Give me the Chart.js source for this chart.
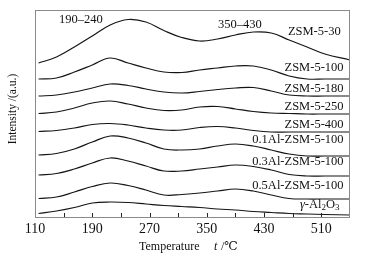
<!DOCTYPE html>
<html>
<head>
<meta charset="utf-8">
<script src="https://cdn.jsdelivr.net/npm/chart.js@4/dist/chart.umd.min.js"></script>
<style>
  html, body { margin: 0; padding: 0; background: #fff; }
  #wrap { width: 365px; height: 259px; }
</style>
</head>
<body>
<div id="wrap"><canvas id="tpd" width="365" height="259"></canvas></div>
<script>
// temperatures (°C) the curves were read at
const temps = [115, 140, 165, 190, 215, 240, 265, 290, 315, 340, 365, 390, 415, 440, 465, 490, 515, 550];

// intensity, arbitrary units (curves are already offset for stacking)
const zsm30   = [154, 160, 170, 181, 192, 197.5, 195, 186.5, 179.5, 176, 178, 182, 185, 184, 177, 170, 163, 157];
const zsm100  = [138, 139, 145, 152, 159, 154, 149, 145, 144.5, 147, 149, 151, 151, 147, 141, 138, 138, 138];
const zsm180  = [121, 122, 125, 129, 133, 131.5, 128, 125, 124, 125.5, 127.5, 129, 129.5, 126, 122, 121, 121, 121];
const zsm250  = [103.5, 105, 109, 114, 116, 113, 109, 106.5, 107, 110, 110.5, 108, 105.5, 104, 103.5, 103, 103, 103];
const zsm400  = [85.5, 86.5, 89, 92.5, 93.5, 92, 89, 87, 87, 89.5, 90.5, 89, 86.5, 85, 85, 85, 85, 85];
const al01    = [62, 63.5, 68, 75, 81, 79, 74, 68, 67, 68, 71, 73, 71, 67, 63, 61, 61, 61];
const al03    = [42, 43.5, 48, 54, 59, 56, 51, 46, 46, 48, 50, 52, 50.5, 47, 42.5, 41, 41, 41];
const al05    = [18.5, 20, 25, 30.5, 34, 31.5, 27, 22, 22.5, 24, 26, 28, 26, 22, 18.5, 18, 18, 18];
const alumina = [3.5, 6, 9.5, 14, 15, 14.5, 13, 11.5, 10.5, 9.5, 8, 7, 5.5, 4.5, 3.5, 3, 2.5, 2];

const seriesNames = ['ZSM-5-30', 'ZSM-5-100', 'ZSM-5-180', 'ZSM-5-250', 'ZSM-5-400',
  '0.1Al-ZSM-5-100', '0.3Al-ZSM-5-100', '0.5Al-ZSM-5-100', 'γ-Al2O3'];
const seriesData = [zsm30, zsm100, zsm180, zsm250, zsm400, al01, al03, al05, alumina];

const xLabels = [110, 190, 270, 350, 430, 510];

const serif = '"Liberation Serif", "DejaVu Serif", serif';

// label placement in data units: [text, temp, intensity]
const curveLabels = [
  ['ZSM-5-30', 537, 185],
  ['ZSM-5-100', 541, 149],
  ['ZSM-5-180', 541, 128],
  ['ZSM-5-250', 541, 110],
  ['ZSM-5-400', 541, 92],
  ['0.1Al-ZSM-5-100', 541, 77],
  ['0.3Al-ZSM-5-100', 541, 55],
  ['0.5Al-ZSM-5-100', 541, 31],
];
const peakLabels = [['190–240', 174, 197], ['350–430', 396, 192]];

const decorations = {
  id: 'decorations',
  afterDraw(chart) {
    const {ctx, chartArea: a, scales: {x, y}} = chart;
    ctx.save();
    // frame
    ctx.strokeStyle = '#8a8a8a';
    ctx.lineWidth = 1;
    ctx.strokeRect(a.left + 0.5, a.top + 0.5, a.right - a.left - 1, a.bottom - a.top);
    // inward ticks on the bottom axis
    ctx.strokeStyle = '#222';
    x.ticks.forEach(t => {
      const px = Math.round(x.getPixelForValue(t.value)) + 0.5;
      if (px <= a.left + 1 || px >= a.right - 1) return;
      ctx.beginPath();
      ctx.moveTo(px, a.bottom);
      ctx.lineTo(px, a.bottom - 4);
      ctx.stroke();
    });

    ctx.fillStyle = '#111';
    ctx.textBaseline = 'middle';
    ctx.font = '12.5px ' + serif;
    ctx.textAlign = 'right';
    curveLabels.forEach(([txt, tx, ty]) => {
      ctx.fillText(txt, x.getPixelForValue(tx), y.getPixelForValue(ty));
    });
    ctx.textAlign = 'center';
    peakLabels.forEach(([txt, tx, ty]) => {
      ctx.fillText(txt, x.getPixelForValue(tx), y.getPixelForValue(ty));
    });

    // γ-Al2O3 with italic gamma and subscripts
    let px = x.getPixelForValue(480), py = y.getPixelForValue(12);
    const parts = [['γ', 'italic 12.5px ', 0], ['-Al', '12.5px ', 0], ['2', '9px ', 3],
      ['O', '12.5px ', 0], ['3', '9px ', 3]];
    ctx.textAlign = 'left';
    parts.forEach(([s, f, dy]) => {
      ctx.font = f + serif;
      ctx.fillText(s, px, py + dy);
      px += ctx.measureText(s).width;
    });

    // axis titles
    ctx.font = '12px ' + serif;
    ctx.textAlign = 'left';
    ctx.fillText('Temperature', 139, 247);
    ctx.font = 'italic 12px ' + serif;
    ctx.fillText('t', 214, 247);
    ctx.font = '12px ' + serif;
    ctx.fillText(' /℃', 218, 247);

    ctx.translate(13, 109);
    ctx.rotate(-Math.PI / 2);
    ctx.textAlign = 'center';
    ctx.font = '11.5px ' + serif;
    ctx.fillText('Intensity /(a.u.)', 0, 0);
    ctx.restore();
  }
};

new Chart(document.getElementById('tpd'), {
  type: 'line',
  data: {
    labels: temps,
    datasets: seriesNames.map((name, i) => ({
      label: name,
      data: temps.map((t, j) => ({x: t, y: seriesData[i][j]})),
      borderColor: '#151515',
      borderWidth: 1.2,
      pointRadius: 0,
      fill: false,
      tension: 0.4,
    })),
  },
  options: {
    responsive: false,
    animation: false,
    layout: {padding: {left: 35, right: 15, top: 10, bottom: 0}},
    plugins: {legend: {display: false}, tooltip: {enabled: false}},
    scales: {
      x: {
        type: 'linear',
        min: 110,
        max: 550,
        afterFit: s => { s.height = 42; },
        border: {display: false},
        grid: {display: false, drawTicks: false},
        ticks: {
          stepSize: 40,
          autoSkip: false,
          maxRotation: 0,
          padding: 4,
          color: '#111',
          font: {family: serif, size: 14},
          callback: v => xLabels.includes(v) ? String(v) : '',
        },
      },
      y: {
        display: false,
        min: 0,
        max: 207,
      },
    },
  },
  plugins: [decorations],
});
</script>
</body>
</html>
